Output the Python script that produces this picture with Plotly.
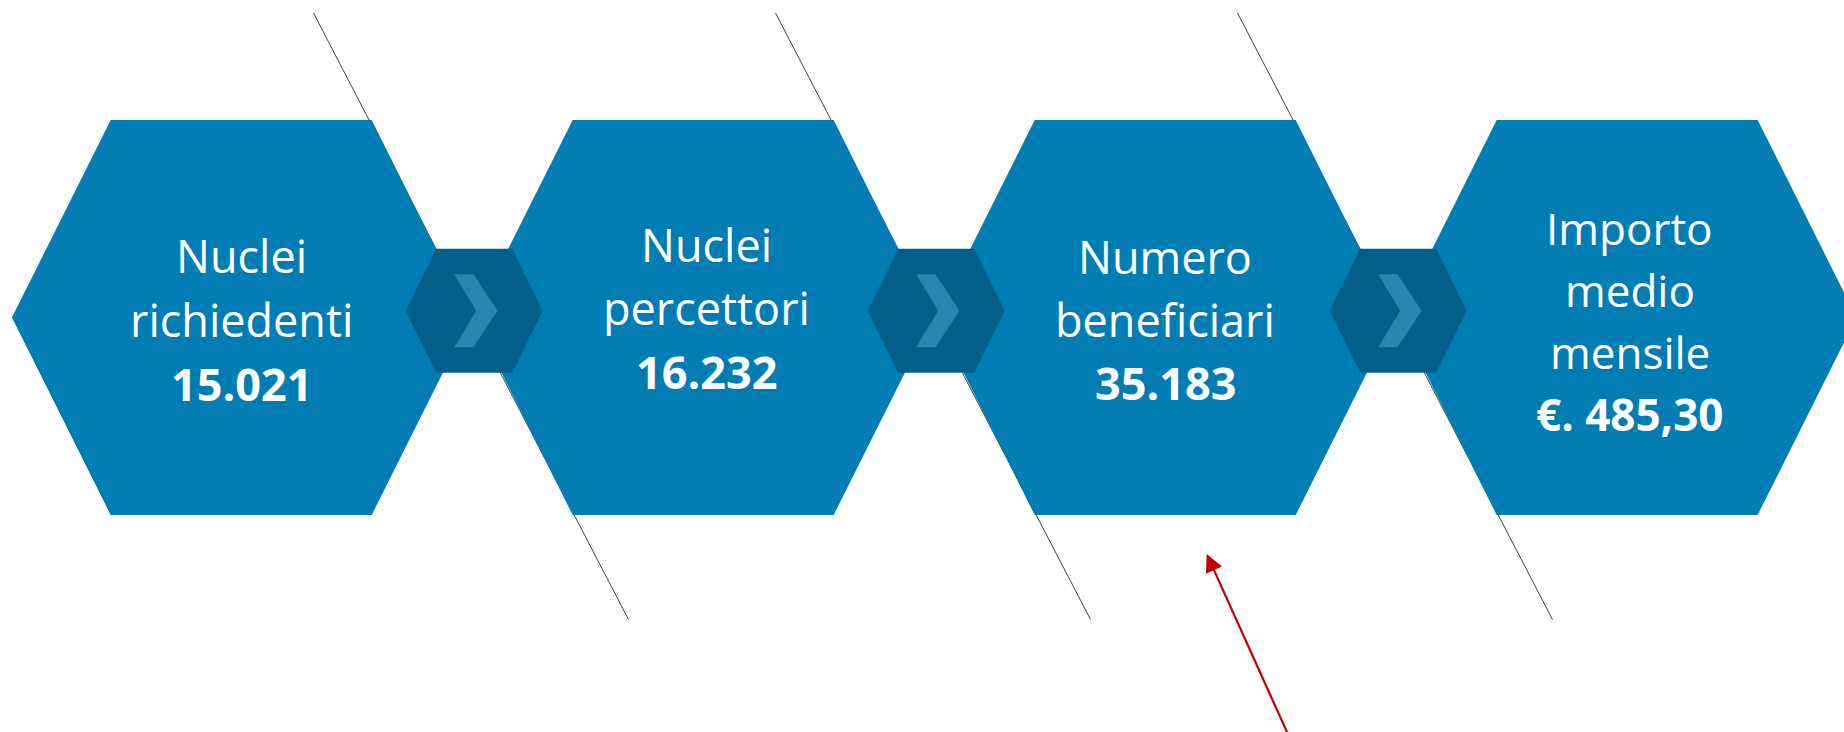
import plotly.graph_objects as go

# ---- data ----
labels = [["Nuclei", "richiedenti"], ["Nuclei", "percettori"], ["Numero", "beneficiari"], ["Importo", "medio", "mensile"]]
values = ["15.021", "16.232", "35.183", "€. 485,30"]

# ---- layout / style (pixel coordinate system) ----
W, H = 1844, 732
BIG_CX0, STEP = 241.2, 462.0
BIG_TOP, BIG_BOT, BIG_MID = 120.0, 515.0, 317.5
BIG_HALF_TOP, BIG_INSET = 130.5, 98.8
SMALL_DX, SMALL_CY = 233.0, 310.7
SMALL_HALF_W, SMALL_HALF_TOP, SMALL_HALF_H = 68.5, 38.0, 62.0
TEXT_CY = [319.0, 307.5, 319.0, 321.0]
TEXT_DX = [0.5, 3.0, 0.0, 2.5]
LINE_SP = [64.0, 63.5, 63.0, 62.3]
FONT_SIZE = [45, 45, 45, 44]
C_BIG, C_SMALL, C_CHEV = "#027DB3", "#035F8A", "#2A85B2"
FONT = "Open Sans"

shapes = []

# thin connector lines (beneath hexagons)
for i in range(3):
    x0 = 313.5 + STEP * i
    shapes.append(dict(type="line", xref="x", yref="y", x0=x0, y0=13, x1=x0 + 315, y1=619.5,
                       line=dict(color="#404040", width=1), layer="above"))

def path(pts):
    return "M " + " L ".join(f"{x:.1f},{y:.1f}" for x, y in pts) + " Z"

for i in range(len(labels)):
    cx = BIG_CX0 + STEP * i
    pts = [(cx - BIG_HALF_TOP - BIG_INSET, BIG_MID), (cx - BIG_HALF_TOP, BIG_TOP), (cx + BIG_HALF_TOP, BIG_TOP),
           (cx + BIG_HALF_TOP + BIG_INSET, BIG_MID), (cx + BIG_HALF_TOP, BIG_BOT), (cx - BIG_HALF_TOP, BIG_BOT)]
    shapes.append(dict(type="path", xref="x", yref="y", path=path(pts), fillcolor=C_BIG,
                       line=dict(width=0), layer="above"))

for j in range(len(labels) - 1):
    cx = BIG_CX0 + STEP * j + SMALL_DX
    cy = SMALL_CY
    pts = [(cx - SMALL_HALF_W, cy), (cx - SMALL_HALF_TOP, cy - SMALL_HALF_H), (cx + SMALL_HALF_TOP, cy - SMALL_HALF_H),
           (cx + SMALL_HALF_W, cy), (cx + SMALL_HALF_TOP, cy + SMALL_HALF_H), (cx - SMALL_HALF_TOP, cy + SMALL_HALF_H)]
    shapes.append(dict(type="path", xref="x", yref="y", path=path(pts), fillcolor=C_SMALL,
                       line=dict(width=0), layer="above"))
    ch = [(-20, -36.5), (-0.7, -36.5), (23.3, 0), (-0.7, 36.5), (-20, 36.5), (2, 0)]
    shapes.append(dict(type="path", xref="x", yref="y", path=path([(cx + a, cy + b) for a, b in ch]),
                       fillcolor=C_CHEV, line=dict(width=0), layer="above"))

annotations = []
for i, (lab, val) in enumerate(zip(labels, values)):
    cx = BIG_CX0 + STEP * i + TEXT_DX[i]
    lines = list(lab) + [f"<b>{val}</b>"]
    n = len(lines)
    for k, txt in enumerate(lines):
        y = TEXT_CY[i] + (k - (n - 1) / 2) * LINE_SP[i]
        annotations.append(dict(x=cx, y=y, xref="x", yref="y", text=txt,
                                showarrow=False, xanchor="center", yanchor="middle",
                                font=dict(family=FONT, size=FONT_SIZE[i], color="white")))

# red arrow
annotations.append(dict(x=1206.7, y=554, ax=1296, ay=752, xref="x", yref="y", axref="x", ayref="y",
                        text="", showarrow=True, arrowhead=2, arrowsize=1.6, arrowwidth=2.2,
                        arrowcolor="#C00000", standoff=0))

fig = go.Figure()
fig.add_trace(go.Scatter(x=[BIG_CX0 + STEP * i for i in range(len(labels))], y=[BIG_MID] * len(labels),
                         mode="markers", marker=dict(opacity=0), hoverinfo="skip", showlegend=False))
fig.update_layout(
    width=W, height=H, margin=dict(l=0, r=0, t=0, b=0),
    paper_bgcolor="white", plot_bgcolor="white",
    xaxis=dict(range=[0, W], visible=False, fixedrange=True),
    yaxis=dict(range=[H, 0], visible=False, fixedrange=True),
    shapes=shapes, annotations=annotations, showlegend=False,
)
fig.write_html("out.html", config={"displayModeBar": False},
               post_script="document.body.style.margin='0';document.body.style.overflow='hidden';")
